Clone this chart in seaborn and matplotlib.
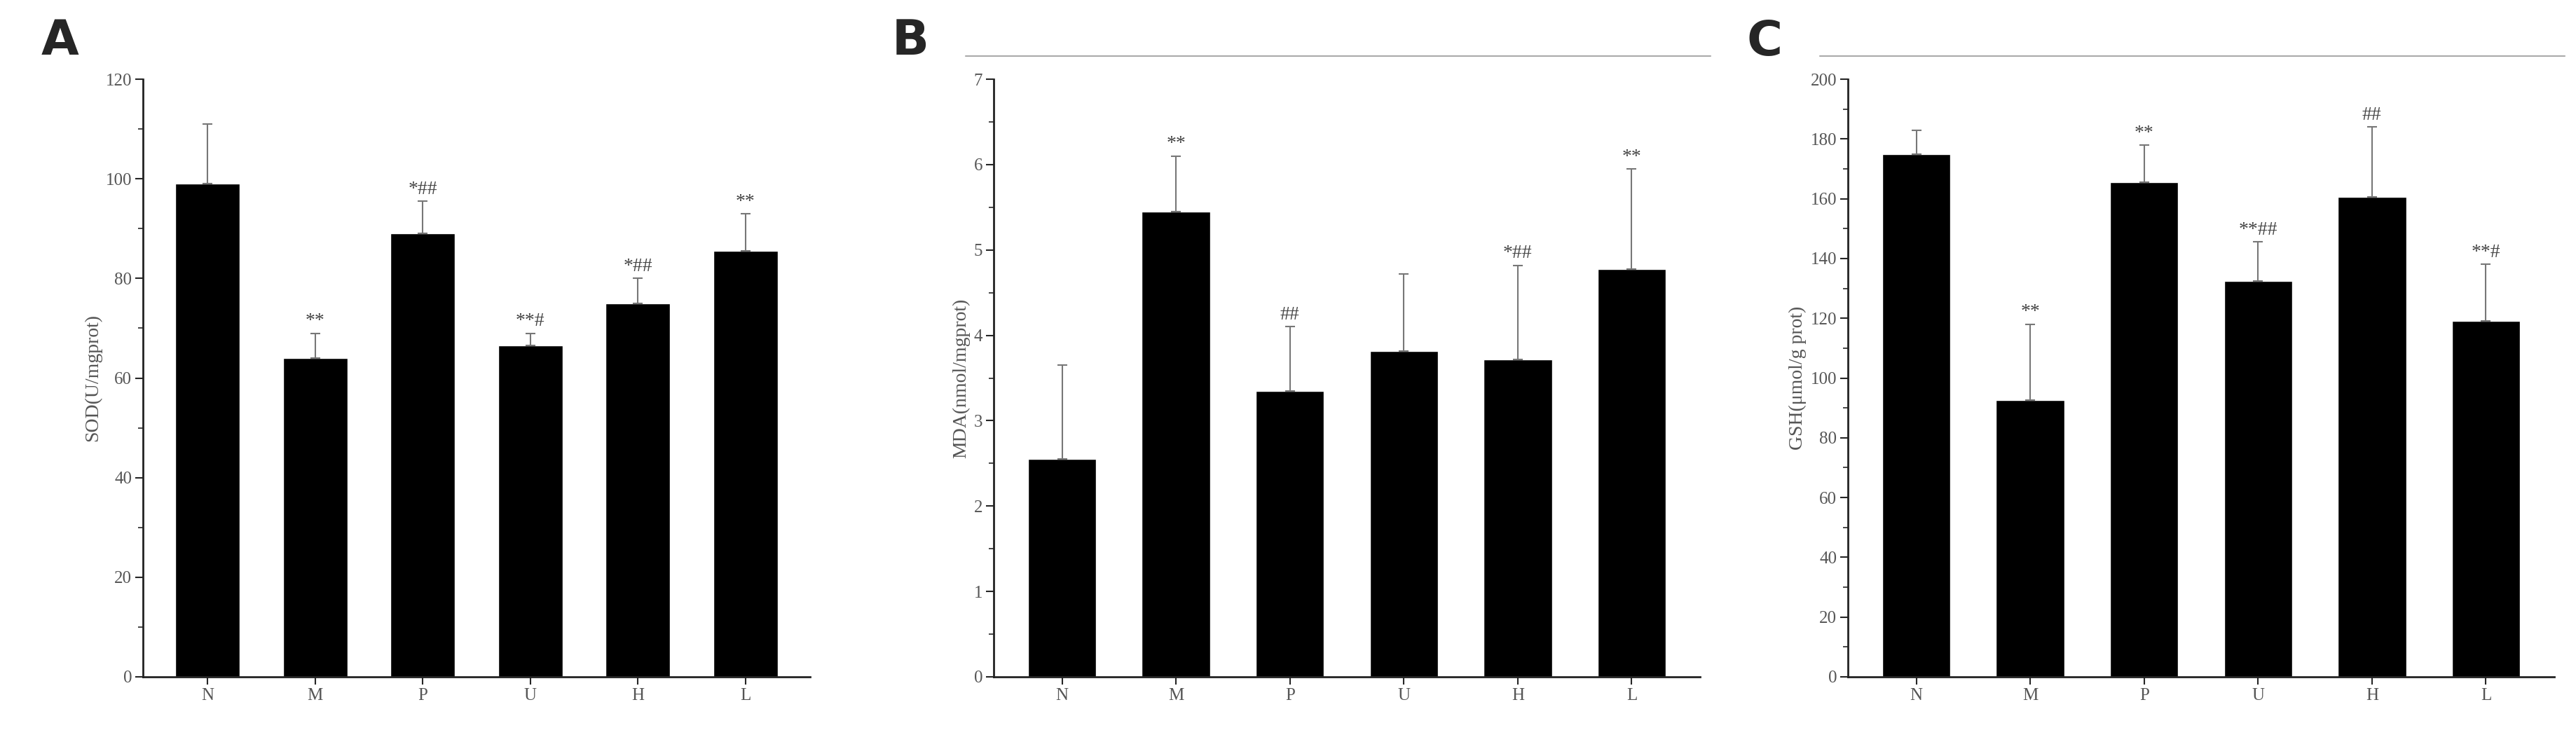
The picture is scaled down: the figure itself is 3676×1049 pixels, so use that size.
import numpy as np
import pandas as pd
import seaborn as sns
import matplotlib.pyplot as plt
from matplotlib.ticker import MultipleLocator

groups = ["N", "M", "P", "U", "H", "L"]

sod_mean = [99, 64, 89, 66.5, 75, 85.5]
sod_err = [12, 5, 6.5, 2.5, 5, 7.5]
sod_sig = ["", "**", "*##", "**#", "*##", "**"]

mda_mean = [2.55, 5.45, 3.35, 3.82, 3.72, 4.78]
mda_err = [1.1, 0.65, 0.75, 0.9, 1.1, 1.17]
mda_sig = ["", "**", "##", "", "*##", "**"]

gsh_mean = [175, 92.5, 165.5, 132.5, 160.5, 119]
gsh_err = [8, 25.5, 12.5, 13, 23.5, 19]
gsh_sig = ["", "**", "**", "**##", "##", "**#"]

sns.set_style("ticks")
plt.rcParams['font.family'] = ['Liberation Serif', 'DejaVu Serif']

fig = plt.figure(figsize=(36.76, 10.49), dpi=100)
W, H = 3676, 1049

panels = [
    ("A", sod_mean, sod_err, sod_sig, "SOD(U/mgprot)", 120, 20, 10, 204, 1156, False),
    ("B", mda_mean, mda_err, mda_sig, "MDA(nmol/mgprot)", 7, 1, 0.5, 1418, 2426, True),
    ("C", gsh_mean, gsh_err, gsh_sig, "GSH(\u03bcmol/g prot)", 200, 20, 10, 2637, 3645, True),
]
top, bottom = 113, 966

for letter, mean, err, sig, ylabel, ymax, major, minor, x0, x1, line in panels:
    ax = fig.add_axes([x0 / W, 1 - bottom / H, (x1 - x0) / W, (bottom - top) / H])
    df = pd.DataFrame({"group": groups, "value": mean})
    sns.barplot(data=df, x="group", y="value", color="black", saturation=1,
                width=0.6, ax=ax, errorbar=None)
    xs = np.arange(len(groups))
    ax.errorbar(xs, mean, yerr=[np.zeros(len(err)), err], fmt="none",
                ecolor="#777777", elinewidth=1.5, capsize=5, capthick=1.5)
    for x, m, e, s in zip(xs, mean, err, sig):
        if s:
            ax.text(x, m + e + ymax * 0.005, s, ha="center", va="bottom",
                    fontsize=20, color="#444444")
    ax.set_ylim(0, ymax)
    ax.set_xlim(-0.6, 5.6)
    ax.yaxis.set_major_locator(MultipleLocator(major))
    ax.yaxis.set_minor_locator(MultipleLocator(minor))
    ax.set_xlabel("")
    ax.set_ylabel(ylabel, fontsize=20, color="#555555")
    ax.tick_params(labelsize=18, labelcolor="#555555", length=8, width=1.5)
    ax.tick_params(which="minor", length=5, width=1.2)
    sns.despine(ax=ax)
    for sp in ("left", "bottom"):
        ax.spines[sp].set_linewidth(2)
        ax.spines[sp].set_color("#222222")
    fig.text((x0 - 145) / W, 1 - 59 / H, letter, fontsize=50, fontweight="bold",
             family="DejaVu Sans", va="center", ha="left")
    if line:
        fig.add_artist(plt.Line2D([(x0 - 40) / W, (x1 + 15) / W], [1 - 80 / H] * 2,
                                  color="#aaaaaa", lw=1.5))

fig.savefig("out.png", dpi=100, facecolor="white")
